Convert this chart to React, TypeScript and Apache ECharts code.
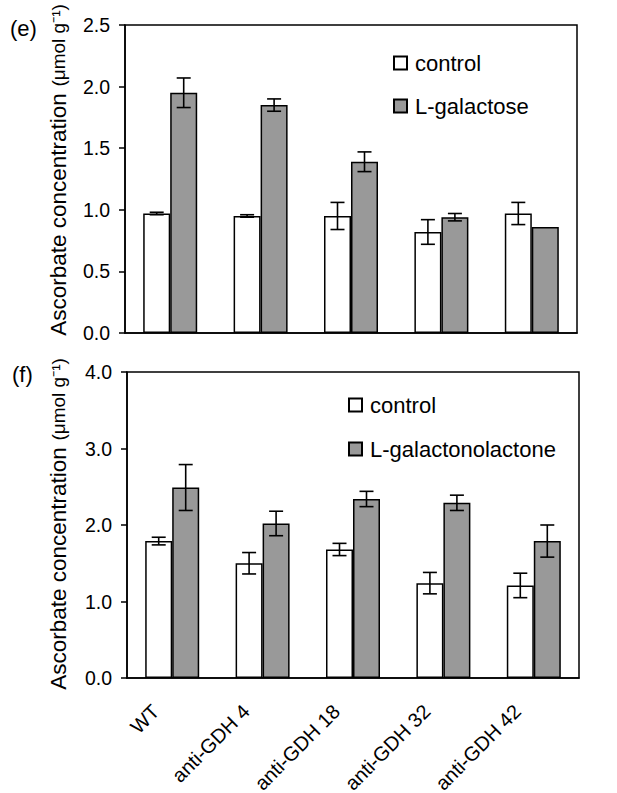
import React, { useEffect, useRef } from "react";
import * as echarts from "echarts";

const categories = ["WT", "anti-GDH 4", "anti-GDH 18", "anti-GDH 32", "anti-GDH 42"];

const galControl = [0.97, 0.95, 0.95, 0.82, 0.97];
const galControlErr = [0.01, 0.01, 0.11, 0.1, 0.09];
const galTreated = [1.95, 1.85, 1.39, 0.94, 0.86];
const galTreatedErr = [0.12, 0.05, 0.08, 0.03, 0];

const lacControl = [1.79, 1.5, 1.68, 1.24, 1.21];
const lacControlErr = [0.05, 0.14, 0.08, 0.14, 0.16];
const lacTreated = [2.49, 2.02, 2.34, 2.29, 1.79];
const lacTreatedErr = [0.3, 0.16, 0.1, 0.1, 0.21];

const topTicks = { min: 0, max: 2.5, interval: 0.5 };
const bottomTicks = { min: 0, max: 4, interval: 1 };

const INK = "#000";
const GRAY = "#999";
const FONT = "'Liberation Sans', Arial, Helvetica, sans-serif";
const BAR_W = 27;

function errSeries(vals: number[], errs: number[], axis: number, offset: number) {
  return {
    type: "custom",
    xAxisIndex: axis,
    yAxisIndex: axis,
    z: 10,
    silent: true,
    encode: { x: 0, y: 1 },
    data: vals.map((v, i) => [i, v, errs[i]]),
    renderItem: (params: any, api: any) => {
      const idx = api.value(0);
      const v = api.value(1);
      const e = api.value(2);
      if (!e) return null;
      const top = api.coord([idx, v + e]);
      const bot = api.coord([idx, v - e]);
      const x = top[0] + offset;
      const style = { stroke: INK, lineWidth: 1.6 };
      return {
        type: "group",
        children: [
          { type: "line", shape: { x1: x, y1: top[1], x2: x, y2: bot[1] }, style },
          { type: "line", shape: { x1: x - 7, y1: top[1], x2: x + 7, y2: top[1] }, style },
          { type: "line", shape: { x1: x - 7, y1: bot[1], x2: x + 7, y2: bot[1] }, style },
        ],
      };
    },
  };
}

function barSeries(name: string, vals: number[], axis: number, color: string) {
  return {
    type: "bar",
    name,
    xAxisIndex: axis,
    yAxisIndex: axis,
    data: vals,
    barWidth: BAR_W,
    barGap: "0%",
    itemStyle: { color, borderColor: INK, borderWidth: 1.5 },
  };
}

function yAxis(grid: number, t: { min: number; max: number; interval: number }) {
  return {
    type: "value",
    gridIndex: grid,
    min: t.min,
    max: t.max,
    interval: t.interval,
    splitLine: { show: false },
    axisLine: { show: true, lineStyle: { color: INK, width: 1.5 } },
    axisTick: { show: true, inside: false, length: 6, lineStyle: { color: INK, width: 1.5 } },
    axisLabel: {
      color: INK,
      fontSize: 19.5,
      fontFamily: FONT,
      margin: 15,
      formatter: (v: number) => v.toFixed(1),
    },
  };
}

function xAxis(grid: number) {
  return {
    type: "category",
    gridIndex: grid,
    data: categories,
    axisLine: { show: true, lineStyle: { color: INK, width: 1.5 } },
    axisTick: { show: false },
    axisLabel: { show: false },
  };
}

function yTitle(x: number, y: number) {
  return {
    type: "text",
    x,
    y,
    rotation: Math.PI / 2,
    style: {
      text: "{a|Ascorbate concentration}  {b|(\u03bcmol g\u207b\u00b9)}",
      align: "center",
      verticalAlign: "middle",
      rich: {
        a: { fontSize: 22.5, fontFamily: FONT, fill: INK },
        b: { fontSize: 19, fontFamily: FONT, fill: INK },
      },
    },
  };
}

const staticGraphics: any[] = [
  yTitle(58, 170),
  yTitle(58, 524),
  {
    type: "text",
    x: 10,
    y: 28,
    style: { text: "(e)", fontSize: 22, fontFamily: FONT, fill: INK, verticalAlign: "middle" },
  },
  {
    type: "text",
    x: 12,
    y: 374,
    style: { text: "(f)", fontSize: 22, fontFamily: FONT, fill: INK, verticalAlign: "middle" },
  },
];

export default function App() {
  const ref = useRef<HTMLDivElement>(null);
  useEffect(() => {
    if (!ref.current) return;
    const chart = echarts.init(ref.current, undefined, { renderer: "svg" });
    chart.setOption({
      animation: false,
      backgroundColor: "#fff",
      grid: [
        { left: 125, top: 25, width: 452, height: 308, show: true, borderColor: INK, borderWidth: 1.5 },
        { left: 127, top: 372, width: 452, height: 306, show: true, borderColor: INK, borderWidth: 1.5 },
      ],
      xAxis: [xAxis(0), xAxis(1)],
      yAxis: [yAxis(0, topTicks), yAxis(1, bottomTicks)],
      legend: [
        {
          data: ["control", "L-galactose"],
          orient: "vertical",
          left: 388,
          top: 47,
          icon: "rect",
          itemWidth: 13,
          itemHeight: 13,
          itemGap: 21,
          selectedMode: false,
          textStyle: { fontSize: 22, fontFamily: FONT, color: INK, padding: [0, 0, 0, 3] },
        },
        {
          data: ["control", "L-galactonolactone"],
          orient: "vertical",
          left: 343,
          top: 389,
          icon: "rect",
          itemWidth: 13,
          itemHeight: 13,
          itemGap: 22,
          selectedMode: false,
          textStyle: { fontSize: 22, fontFamily: FONT, color: INK, padding: [0, 0, 0, 3] },
        },
      ],
      graphic: staticGraphics,
      series: [
        barSeries("control", galControl, 0, "#fff"),
        barSeries("L-galactose", galTreated, 0, GRAY),
        errSeries(galControl, galControlErr, 0, -BAR_W / 2),
        errSeries(galTreated, galTreatedErr, 0, BAR_W / 2),
        barSeries("control", lacControl, 1, "#fff"),
        barSeries("L-galactonolactone", lacTreated, 1, GRAY),
        errSeries(lacControl, lacControlErr, 1, -BAR_W / 2),
        errSeries(lacTreated, lacTreatedErr, 1, BAR_W / 2),
      ],
    });
    // category labels rotated 45deg, anchored through the axis' own scale
    const labelGraphics = categories.map((c, i) => {
      const p = chart.convertToPixel({ xAxisIndex: 1, yAxisIndex: 1 } as any, [i, 0]) as number[];
      return {
        type: "text",
        x: p[0] - 16.5,
        y: p[1] + 30,
        rotation: Math.PI / 4,
        style: {
          text: c,
          fontSize: 20,
          fontFamily: FONT,
          fill: INK,
          align: "right",
          verticalAlign: "middle",
        },
      };
    });
    chart.setOption({ graphic: [...staticGraphics, ...labelGraphics] }, { replaceMerge: ["graphic"] } as any);
    return () => chart.dispose();
  }, []);
  return (
    <div
      ref={ref}
      style={{ position: "fixed", left: 0, top: 0, width: 617, height: 793, background: "#fff" }}
    />
  );
}
